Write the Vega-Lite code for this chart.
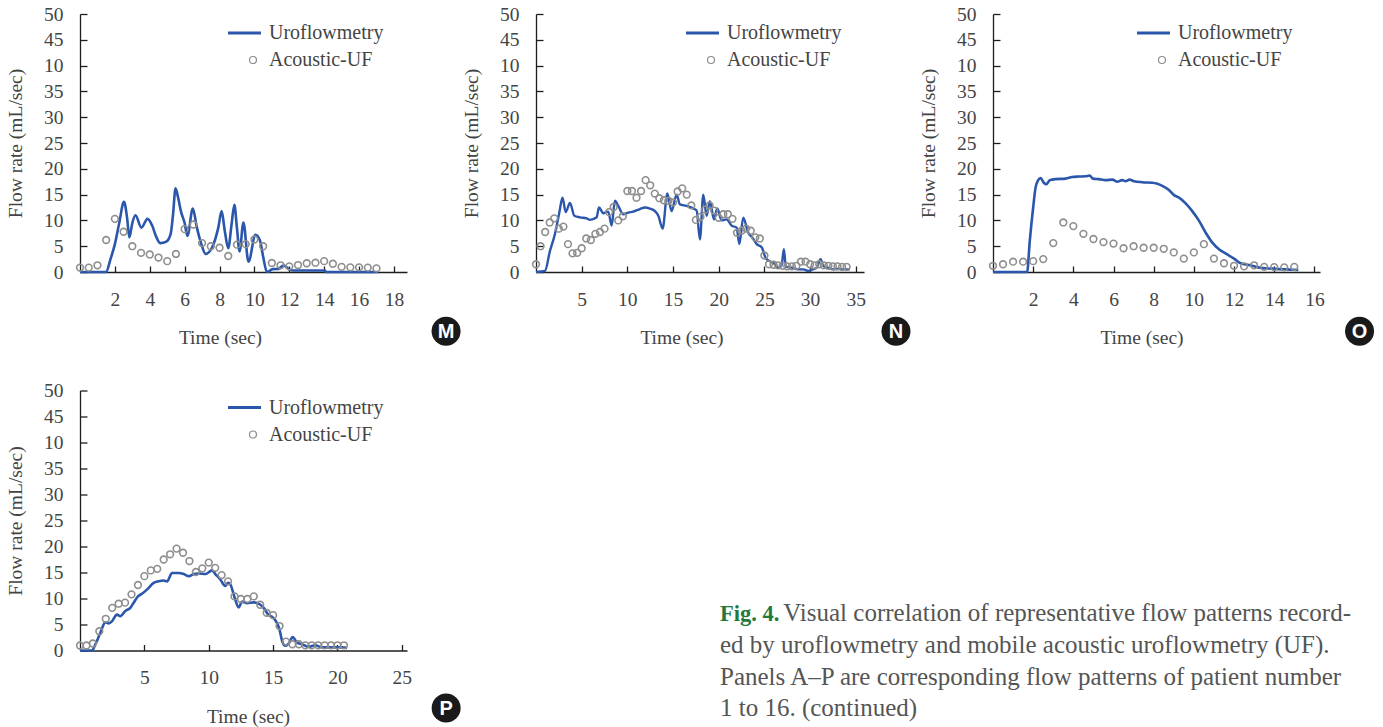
{
 "$schema": "https://vega.github.io/schema/vega-lite/v6.json",
 "padding": {"left": 5, "top": 4, "right": 5, "bottom": 5},
 "background": "white",
 "datasets": {
  "M_uro": [{"time":0,"flow":0},{"time":1.49,"flow":0},{"time":1.75,"flow":2.5},{"time":2.0,"flow":5.4},{"time":2.25,"flow":9.5},{"time":2.52,"flow":13.6},{"time":2.7,"flow":10.5},{"time":2.83,"flow":6.7},{"time":3.0,"flow":9.5},{"time":3.18,"flow":11.0},{"time":3.52,"flow":8.6},{"time":3.87,"flow":10.3},{"time":4.15,"flow":8.9},{"time":4.35,"flow":7.0},{"time":4.6,"flow":5.6},{"time":4.95,"flow":5.9},{"time":5.2,"flow":7.4},{"time":5.33,"flow":11.0},{"time":5.48,"flow":16.2},{"time":5.62,"flow":14.5},{"time":5.8,"flow":11.6},{"time":6.0,"flow":9.5},{"time":6.16,"flow":7.0},{"time":6.47,"flow":12.3},{"time":6.69,"flow":8.8},{"time":6.95,"flow":5.5},{"time":7.2,"flow":3.5},{"time":7.58,"flow":4.8},{"time":7.93,"flow":8.6},{"time":8.12,"flow":11.8},{"time":8.3,"flow":8.0},{"time":8.5,"flow":4.6},{"time":8.7,"flow":9.5},{"time":8.85,"flow":13.0},{"time":9.0,"flow":8.5},{"time":9.15,"flow":4.0},{"time":9.37,"flow":9.6},{"time":9.66,"flow":2.0},{"time":10.06,"flow":7.2},{"time":10.32,"flow":6.1},{"time":10.5,"flow":3.0},{"time":10.72,"flow":0},{"time":11.05,"flow":0.55},{"time":11.37,"flow":0.6},{"time":11.66,"flow":1.25},{"time":12.04,"flow":0.45},{"time":12.2,"flow":0.3},{"time":14.05,"flow":0.3},{"time":14.1,"flow":0},{"time":17.1,"flow":0}],
  "M_ac": [{"time":0,"flow":0.85},{"time":0.5,"flow":0.85},{"time":1.0,"flow":1.3},{"time":1.5,"flow":6.2},{"time":2.0,"flow":10.3},{"time":2.5,"flow":7.8},{"time":3.0,"flow":5.0},{"time":3.5,"flow":3.7},{"time":4.0,"flow":3.4},{"time":4.5,"flow":2.8},{"time":5.0,"flow":2.1},{"time":5.5,"flow":3.5},{"time":6.0,"flow":8.3},{"time":6.5,"flow":9.2},{"time":7.0,"flow":5.6},{"time":7.5,"flow":5.0},{"time":8.0,"flow":4.7},{"time":8.5,"flow":3.1},{"time":9.0,"flow":5.3},{"time":9.5,"flow":5.4},{"time":10.0,"flow":6.3},{"time":10.5,"flow":5.0},{"time":11.0,"flow":1.75},{"time":11.5,"flow":1.3},{"time":12.0,"flow":1.1},{"time":12.5,"flow":1.35},{"time":13.0,"flow":1.7},{"time":13.5,"flow":1.8},{"time":14.0,"flow":2.1},{"time":14.5,"flow":1.6},{"time":15.0,"flow":1.0},{"time":15.5,"flow":0.9},{"time":16.0,"flow":0.9},{"time":16.5,"flow":0.85},{"time":17.0,"flow":0.7}],
  "N_uro": [{"time":0,"flow":0},{"time":0.98,"flow":0.2},{"time":1.53,"flow":4.1},{"time":2.08,"flow":7.4},{"time":2.55,"flow":11.5},{"time":2.9,"flow":14.4},{"time":3.25,"flow":11.6},{"time":3.72,"flow":13.4},{"time":4.19,"flow":10.9},{"time":4.81,"flow":10.6},{"time":5.54,"flow":10.4},{"time":5.9,"flow":10.1},{"time":6.64,"flow":10.6},{"time":6.89,"flow":12.5},{"time":7.37,"flow":11.4},{"time":7.91,"flow":11.7},{"time":8.28,"flow":9.0},{"time":8.64,"flow":13.8},{"time":9.01,"flow":12.8},{"time":9.55,"flow":11.2},{"time":10.1,"flow":11.5},{"time":10.65,"flow":11.7},{"time":11.38,"flow":12.2},{"time":11.93,"flow":12.5},{"time":12.47,"flow":12.3},{"time":13.02,"flow":11.8},{"time":13.39,"flow":10.9},{"time":13.86,"flow":8.4},{"time":14.37,"flow":15.2},{"time":14.84,"flow":11.8},{"time":15.39,"flow":15.0},{"time":15.75,"flow":13.1},{"time":16.48,"flow":12.8},{"time":17.21,"flow":12.3},{"time":17.58,"flow":11.9},{"time":17.94,"flow":6.3},{"time":18.31,"flow":15.0},{"time":18.67,"flow":10.9},{"time":19.04,"flow":13.7},{"time":19.48,"flow":10.2},{"time":19.84,"flow":12.3},{"time":20.32,"flow":10.0},{"time":20.86,"flow":10.2},{"time":21.41,"flow":9.0},{"time":21.96,"flow":8.6},{"time":22.26,"flow":5.4},{"time":22.68,"flow":10.5},{"time":23.23,"flow":7.6},{"time":23.71,"flow":6.6},{"time":24.16,"flow":5.4},{"time":24.7,"flow":4.8},{"time":25.17,"flow":2.6},{"time":25.6,"flow":2.1},{"time":26.16,"flow":1.5},{"time":26.5,"flow":0.8},{"time":26.87,"flow":1.2},{"time":27.13,"flow":4.4},{"time":27.35,"flow":1.0},{"time":28.15,"flow":0.8},{"time":28.7,"flow":0.5},{"time":29.25,"flow":0.5},{"time":29.8,"flow":0.2},{"time":30.27,"flow":0.5},{"time":30.71,"flow":0.8},{"time":31.15,"flow":2.5},{"time":31.44,"flow":1.2},{"time":31.98,"flow":0.8},{"time":32.53,"flow":0.5},{"time":33.08,"flow":0.6},{"time":33.63,"flow":0.5},{"time":34.35,"flow":0.5}],
  "N_ac": [{"time":0,"flow":1.5},{"time":0.5,"flow":5.0},{"time":1.0,"flow":7.75},{"time":1.5,"flow":9.6},{"time":2.0,"flow":10.4},{"time":2.5,"flow":8.4},{"time":3.0,"flow":8.8},{"time":3.5,"flow":5.4},{"time":4.0,"flow":3.6},{"time":4.5,"flow":3.7},{"time":5.0,"flow":4.6},{"time":5.5,"flow":6.5},{"time":6.0,"flow":6.2},{"time":6.5,"flow":7.4},{"time":7.0,"flow":7.75},{"time":7.5,"flow":8.4},{"time":8.0,"flow":11.6},{"time":8.5,"flow":12.6},{"time":9.0,"flow":10.0},{"time":9.5,"flow":10.8},{"time":10.0,"flow":15.7},{"time":10.5,"flow":15.7},{"time":11.0,"flow":14.4},{"time":11.5,"flow":15.7},{"time":12.0,"flow":17.8},{"time":12.5,"flow":16.8},{"time":13.0,"flow":15.2},{"time":13.5,"flow":14.3},{"time":14.0,"flow":13.9},{"time":14.5,"flow":13.8},{"time":15.0,"flow":13.5},{"time":15.5,"flow":15.6},{"time":16.0,"flow":16.2},{"time":16.5,"flow":15.0},{"time":17.0,"flow":12.9},{"time":17.5,"flow":10.1},{"time":18.0,"flow":10.7},{"time":18.5,"flow":12.1},{"time":19.0,"flow":12.9},{"time":19.5,"flow":11.9},{"time":20.0,"flow":10.5},{"time":20.5,"flow":11.2},{"time":21.0,"flow":11.2},{"time":21.5,"flow":10.3},{"time":22.0,"flow":7.6},{"time":22.5,"flow":8.0},{"time":23.0,"flow":8.4},{"time":23.5,"flow":8.0},{"time":24.0,"flow":6.7},{"time":24.5,"flow":6.5},{"time":25.0,"flow":3.2},{"time":25.5,"flow":1.5},{"time":26.0,"flow":1.4},{"time":26.5,"flow":1.3},{"time":27.0,"flow":1.2},{"time":27.5,"flow":1.1},{"time":28.0,"flow":1.1},{"time":28.5,"flow":1.2},{"time":29.0,"flow":2.0},{"time":29.5,"flow":2.0},{"time":30.0,"flow":1.5},{"time":30.5,"flow":1.3},{"time":31.0,"flow":1.5},{"time":31.5,"flow":1.3},{"time":32.0,"flow":1.2},{"time":32.5,"flow":1.1},{"time":33.0,"flow":1.1},{"time":33.5,"flow":1.0},{"time":34.0,"flow":1.0}],
  "O_uro": [{"time":0,"flow":0},{"time":1.7,"flow":0},{"time":1.83,"flow":6.0},{"time":2.0,"flow":12.5},{"time":2.12,"flow":16.4},{"time":2.25,"flow":17.8},{"time":2.37,"flow":18.2},{"time":2.53,"flow":17.3},{"time":2.66,"flow":17.0},{"time":2.83,"flow":17.8},{"time":3.11,"flow":18.0},{"time":3.61,"flow":18.1},{"time":3.94,"flow":18.4},{"time":4.27,"flow":18.5},{"time":4.61,"flow":18.55},{"time":4.81,"flow":18.7},{"time":4.97,"flow":18.1},{"time":5.27,"flow":18.0},{"time":5.6,"flow":17.8},{"time":5.94,"flow":17.9},{"time":6.19,"flow":17.5},{"time":6.43,"flow":17.8},{"time":6.6,"flow":17.6},{"time":6.8,"flow":17.9},{"time":7.02,"flow":17.6},{"time":7.43,"flow":17.4},{"time":7.93,"flow":17.3},{"time":8.18,"flow":17.1},{"time":8.43,"flow":16.7},{"time":8.76,"flow":15.9},{"time":9.01,"flow":14.9},{"time":9.26,"flow":14.4},{"time":9.59,"flow":13.3},{"time":9.92,"flow":11.8},{"time":10.26,"flow":9.9},{"time":10.59,"flow":7.6},{"time":10.92,"flow":5.7},{"time":11.25,"flow":4.4},{"time":11.58,"flow":3.6},{"time":12.0,"flow":2.6},{"time":12.33,"flow":1.7},{"time":12.75,"flow":1.35},{"time":13.25,"flow":0.85},{"time":13.91,"flow":0.65},{"time":14.57,"flow":0.5},{"time":15.2,"flow":0.4}],
  "O_ac": [{"time":0,"flow":1.2},{"time":0.5,"flow":1.5},{"time":1.0,"flow":2.0},{"time":1.5,"flow":2.0},{"time":2.0,"flow":2.1},{"time":2.5,"flow":2.5},{"time":3.0,"flow":5.6},{"time":3.5,"flow":9.6},{"time":4.0,"flow":8.9},{"time":4.5,"flow":7.4},{"time":5.0,"flow":6.4},{"time":5.5,"flow":5.8},{"time":6.0,"flow":5.5},{"time":6.5,"flow":4.6},{"time":7.0,"flow":5.0},{"time":7.5,"flow":4.7},{"time":8.0,"flow":4.7},{"time":8.5,"flow":4.5},{"time":9.0,"flow":3.8},{"time":9.5,"flow":2.6},{"time":10.0,"flow":3.8},{"time":10.5,"flow":5.4},{"time":11.0,"flow":2.6},{"time":11.5,"flow":1.7},{"time":12.0,"flow":1.2},{"time":12.5,"flow":1.1},{"time":13.0,"flow":1.3},{"time":13.5,"flow":1.0},{"time":14.0,"flow":0.95},{"time":14.5,"flow":0.9},{"time":15.0,"flow":1.0}],
  "P_uro": [{"time":0,"flow":0},{"time":0.93,"flow":0},{"time":1.19,"flow":1.15},{"time":1.58,"flow":3.4},{"time":1.97,"flow":5.4},{"time":2.23,"flow":5.2},{"time":2.48,"flow":5.6},{"time":2.87,"flow":6.9},{"time":3.13,"flow":6.6},{"time":3.52,"flow":7.6},{"time":3.91,"flow":8.2},{"time":4.17,"flow":9.2},{"time":4.5,"flow":10.4},{"time":4.81,"flow":10.9},{"time":5.2,"flow":11.7},{"time":5.72,"flow":13.0},{"time":6.11,"flow":13.3},{"time":6.5,"flow":13.45},{"time":6.76,"flow":13.3},{"time":7.15,"flow":14.9},{"time":7.67,"flow":14.9},{"time":8.06,"flow":14.7},{"time":8.45,"flow":14.3},{"time":8.84,"flow":14.7},{"time":9.23,"flow":14.8},{"time":9.74,"flow":14.7},{"time":10.26,"flow":15.4},{"time":10.51,"flow":14.7},{"time":10.9,"flow":13.65},{"time":11.29,"flow":12.4},{"time":11.5,"flow":13.0},{"time":11.68,"flow":12.7},{"time":12.02,"flow":10.1},{"time":12.33,"flow":8.3},{"time":12.59,"flow":9.4},{"time":12.98,"flow":9.1},{"time":13.5,"flow":9.25},{"time":14.01,"flow":8.8},{"time":14.27,"flow":8.2},{"time":14.66,"flow":6.8},{"time":14.92,"flow":6.5},{"time":15.3,"flow":5.3},{"time":15.49,"flow":4.1},{"time":15.7,"flow":1.8},{"time":15.95,"flow":0.9},{"time":16.21,"flow":1.3},{"time":16.52,"flow":2.6},{"time":16.86,"flow":1.5},{"time":17.25,"flow":1.2},{"time":17.77,"flow":0.7},{"time":18.28,"flow":1.0},{"time":18.8,"flow":0.6},{"time":19.58,"flow":0.6},{"time":20.36,"flow":0.6},{"time":20.75,"flow":0.5}],
  "P_ac": [{"time":0,"flow":0.96},{"time":0.5,"flow":0.96},{"time":1.0,"flow":1.35},{"time":1.5,"flow":3.7},{"time":2.0,"flow":6.1},{"time":2.5,"flow":8.2},{"time":3.0,"flow":9.0},{"time":3.5,"flow":9.2},{"time":4.0,"flow":10.8},{"time":4.5,"flow":12.6},{"time":5.0,"flow":14.3},{"time":5.5,"flow":15.4},{"time":6.0,"flow":15.7},{"time":6.5,"flow":17.5},{"time":7.0,"flow":18.5},{"time":7.5,"flow":19.6},{"time":8.0,"flow":18.8},{"time":8.5,"flow":17.2},{"time":9.0,"flow":15.1},{"time":9.5,"flow":15.8},{"time":10.0,"flow":16.9},{"time":10.5,"flow":15.9},{"time":11.0,"flow":14.5},{"time":11.5,"flow":13.3},{"time":12.0,"flow":10.4},{"time":12.5,"flow":9.9},{"time":13.0,"flow":9.9},{"time":13.5,"flow":10.4},{"time":14.0,"flow":8.8},{"time":14.5,"flow":7.25},{"time":15.0,"flow":6.8},{"time":15.5,"flow":4.7},{"time":16.0,"flow":1.7},{"time":16.5,"flow":1.2},{"time":17.0,"flow":1.2},{"time":17.5,"flow":1.0},{"time":18.0,"flow":1.0},{"time":18.5,"flow":1.0},{"time":19.0,"flow":1.0},{"time":19.5,"flow":1.0},{"time":20.0,"flow":1.0},{"time":20.5,"flow":1.0}]
 },
 "concat": [
  {
   "width": 327, "height": 258,
   "layer": [
    {"data": {"name": "M_uro"}, "mark": {"type": "line", "interpolate": "monotone", "strokeWidth": 2.6},
     "encoding": {
      "x": {"field": "time", "type": "quantitative", "scale": {"domain": [0, 18.75], "nice": false, "zero": false}, "axis": {"values": [2,4,6,8,10,12,14,16,18], "tickCount": 30, "format": "d", "title": "Time (sec)", "titleX": 140, "labelOverlap": false}},
      "y": {"field": "flow", "type": "quantitative", "scale": {"domain": [0, 50], "nice": false}, "axis": {"values": [0,5,10,15,20,25,30,35,40,45,50], "tickCount": 30, "format": "d", "labelExpr": "datum.value === 40 ? '10' : datum.label", "title": "Flow rate (mL/sec)", "labelOverlap": false}},
      "color": {"datum": "Uroflowmetry", "type": "nominal", "scale": {"domain": ["Uroflowmetry", "Acoustic-UF"], "range": ["#2a56ab", "#8e8e8e"]},
       "legend": {"orient": "none", "legendX": 168, "legendY": 9, "title": null, "encode": {"symbols": {"update": {"shape": {"signal": "datum.value === 'Uroflowmetry' ? 'stroke' : 'circle'"}, "size": {"signal": "datum.value === 'Uroflowmetry' ? 1089 : 49"}, "stroke": {"signal": "datum.value === 'Uroflowmetry' ? '#2a56ab' : '#333333'"}, "strokeWidth": {"signal": "datum.value === 'Uroflowmetry' ? 3 : 1.2"}, "fill": {"value": "transparent"}, "x": {"signal": "datum.value === 'Uroflowmetry' ? -3.5 : 5"}}}}}}
     }},
    {"data": {"name": "M_ac"}, "mark": {"type": "point", "shape": "circle", "filled": false, "size": 45, "strokeWidth": 1.6, "opacity": 1},
     "encoding": {"x": {"field": "time", "type": "quantitative"}, "y": {"field": "flow", "type": "quantitative"}, "color": {"datum": "Acoustic-UF", "type": "nominal"}}},
    {"data": {"values": [{"badge": "M"}]}, "mark": {"type": "point", "shape": "circle", "filled": true, "size": 841, "color": "#1a1a1a", "opacity": 1},
     "encoding": {"x": {"datum": 20.99, "type": "quantitative"}, "y": {"datum": -11.5, "type": "quantitative"}}},
    {"data": {"values": [{"badge": "M"}]}, "mark": {"type": "text", "color": "#ffffff", "font": "Liberation Sans", "fontWeight": "bold", "fontSize": 20, "baseline": "middle", "align": "center", "dy": 1},
     "encoding": {"x": {"datum": 20.99, "type": "quantitative"}, "y": {"datum": -11.5, "type": "quantitative"}, "text": {"field": "badge"}}}
   ]
  },
  {
   "width": 328, "height": 258,
   "layer": [
    {"data": {"name": "N_uro"}, "mark": {"type": "line", "interpolate": "monotone", "strokeWidth": 2.4},
     "encoding": {
      "x": {"field": "time", "type": "quantitative", "scale": {"domain": [0, 35.9], "nice": false, "zero": false}, "axis": {"values": [5,10,15,20,25,30,35], "tickCount": 30, "format": "d", "title": "Time (sec)", "titleX": 145.5, "labelOverlap": false}},
      "y": {"field": "flow", "type": "quantitative", "scale": {"domain": [0, 50], "nice": false}, "axis": {"values": [0,5,10,15,20,25,30,35,40,45,50], "tickCount": 30, "format": "d", "labelExpr": "datum.value === 40 ? '10' : datum.label", "title": "Flow rate (mL/sec)", "labelOverlap": false}},
      "color": {"datum": "Uroflowmetry", "type": "nominal", "scale": {"domain": ["Uroflowmetry", "Acoustic-UF"], "range": ["#2a56ab", "#8e8e8e"]},
       "legend": {"orient": "none", "legendX": 170, "legendY": 9, "title": null, "encode": {"symbols": {"update": {"shape": {"signal": "datum.value === 'Uroflowmetry' ? 'stroke' : 'circle'"}, "size": {"signal": "datum.value === 'Uroflowmetry' ? 1089 : 49"}, "stroke": {"signal": "datum.value === 'Uroflowmetry' ? '#2a56ab' : '#333333'"}, "strokeWidth": {"signal": "datum.value === 'Uroflowmetry' ? 3 : 1.2"}, "fill": {"value": "transparent"}, "x": {"signal": "datum.value === 'Uroflowmetry' ? -3.5 : 5"}}}}}}
     }},
    {"data": {"name": "N_ac"}, "mark": {"type": "point", "shape": "circle", "filled": false, "size": 45, "strokeWidth": 1.6, "opacity": 1},
     "encoding": {"x": {"field": "time", "type": "quantitative"}, "y": {"field": "flow", "type": "quantitative"}, "color": {"datum": "Acoustic-UF", "type": "nominal"}}},
    {"data": {"values": [{"badge": "N"}]}, "mark": {"type": "point", "shape": "circle", "filled": true, "size": 841, "color": "#1a1a1a", "opacity": 1},
     "encoding": {"x": {"datum": 39.4, "type": "quantitative"}, "y": {"datum": -11.5, "type": "quantitative"}}},
    {"data": {"values": [{"badge": "N"}]}, "mark": {"type": "text", "color": "#ffffff", "font": "Liberation Sans", "fontWeight": "bold", "fontSize": 20, "baseline": "middle", "align": "center", "dy": 1},
     "encoding": {"x": {"datum": 39.4, "type": "quantitative"}, "y": {"datum": -11.5, "type": "quantitative"}, "text": {"field": "badge"}}}
   ]
  },
  {
   "width": 327, "height": 258,
   "layer": [
    {"data": {"name": "O_uro"}, "mark": {"type": "line", "interpolate": "monotone", "strokeWidth": 2.6},
     "encoding": {
      "x": {"field": "time", "type": "quantitative", "scale": {"domain": [0, 16.28], "nice": false, "zero": false}, "axis": {"values": [2,4,6,8,10,12,14,16], "tickCount": 30, "format": "d", "title": "Time (sec)", "titleX": 148.5, "labelOverlap": false}},
      "y": {"field": "flow", "type": "quantitative", "scale": {"domain": [0, 50], "nice": false}, "axis": {"values": [0,5,10,15,20,25,30,35,40,45,50], "tickCount": 30, "format": "d", "labelExpr": "datum.value === 40 ? '10' : datum.label", "title": "Flow rate (mL/sec)", "labelOverlap": false}},
      "color": {"datum": "Uroflowmetry", "type": "nominal", "scale": {"domain": ["Uroflowmetry", "Acoustic-UF"], "range": ["#2a56ab", "#8e8e8e"]},
       "legend": {"orient": "none", "legendX": 164, "legendY": 9, "title": null, "encode": {"symbols": {"update": {"shape": {"signal": "datum.value === 'Uroflowmetry' ? 'stroke' : 'circle'"}, "size": {"signal": "datum.value === 'Uroflowmetry' ? 1089 : 49"}, "stroke": {"signal": "datum.value === 'Uroflowmetry' ? '#2a56ab' : '#333333'"}, "strokeWidth": {"signal": "datum.value === 'Uroflowmetry' ? 3 : 1.2"}, "fill": {"value": "transparent"}, "x": {"signal": "datum.value === 'Uroflowmetry' ? -3.5 : 5"}}}}}}
     }},
    {"data": {"name": "O_ac"}, "mark": {"type": "point", "shape": "circle", "filled": false, "size": 45, "strokeWidth": 1.6, "opacity": 1},
     "encoding": {"x": {"field": "time", "type": "quantitative"}, "y": {"field": "flow", "type": "quantitative"}, "color": {"datum": "Acoustic-UF", "type": "nominal"}}},
    {"data": {"values": [{"badge": "O"}]}, "mark": {"type": "point", "shape": "circle", "filled": true, "size": 841, "color": "#1a1a1a", "opacity": 1},
     "encoding": {"x": {"datum": 18.25, "type": "quantitative"}, "y": {"datum": -11.5, "type": "quantitative"}}},
    {"data": {"values": [{"badge": "O"}]}, "mark": {"type": "text", "color": "#ffffff", "font": "Liberation Sans", "fontWeight": "bold", "fontSize": 20, "baseline": "middle", "align": "center", "dy": 1},
     "encoding": {"x": {"datum": 18.25, "type": "quantitative"}, "y": {"datum": -11.5, "type": "quantitative"}, "text": {"field": "badge"}}}
   ]
  },
  {
   "width": 327, "height": 260,
   "layer": [
    {"data": {"name": "P_uro"}, "mark": {"type": "line", "interpolate": "monotone", "strokeWidth": 2.6},
     "encoding": {
      "x": {"field": "time", "type": "quantitative", "scale": {"domain": [0, 25.4], "nice": false, "zero": false}, "axis": {"values": [5,10,15,20,25], "tickCount": 30, "format": "d", "title": "Time (sec)", "titleX": 168, "labelOverlap": false}},
      "y": {"field": "flow", "type": "quantitative", "scale": {"domain": [0, 50], "nice": false}, "axis": {"values": [0,5,10,15,20,25,30,35,40,45,50], "tickCount": 30, "format": "d", "labelExpr": "datum.value === 40 ? '10' : datum.label", "title": "Flow rate (mL/sec)", "labelOverlap": false}},
      "color": {"datum": "Uroflowmetry", "type": "nominal", "scale": {"domain": ["Uroflowmetry", "Acoustic-UF"], "range": ["#2a56ab", "#8e8e8e"]},
       "legend": {"orient": "none", "legendX": 168, "legendY": 7, "title": null, "encode": {"symbols": {"update": {"shape": {"signal": "datum.value === 'Uroflowmetry' ? 'stroke' : 'circle'"}, "size": {"signal": "datum.value === 'Uroflowmetry' ? 1089 : 49"}, "stroke": {"signal": "datum.value === 'Uroflowmetry' ? '#2a56ab' : '#333333'"}, "strokeWidth": {"signal": "datum.value === 'Uroflowmetry' ? 3 : 1.2"}, "fill": {"value": "transparent"}, "x": {"signal": "datum.value === 'Uroflowmetry' ? -3.5 : 5"}}}}}}
     }},
    {"data": {"name": "P_ac"}, "mark": {"type": "point", "shape": "circle", "filled": false, "size": 45, "strokeWidth": 1.6, "opacity": 1},
     "encoding": {"x": {"field": "time", "type": "quantitative"}, "y": {"field": "flow", "type": "quantitative"}, "color": {"datum": "Acoustic-UF", "type": "nominal"}}},
    {"data": {"values": [{"badge": "P"}]}, "mark": {"type": "point", "shape": "circle", "filled": true, "size": 841, "color": "#1a1a1a", "opacity": 1},
     "encoding": {"x": {"datum": 28.44, "type": "quantitative"}, "y": {"datum": -11.06, "type": "quantitative"}}},
    {"data": {"values": [{"badge": "P"}]}, "mark": {"type": "text", "color": "#ffffff", "font": "Liberation Sans", "fontWeight": "bold", "fontSize": 20, "baseline": "middle", "align": "center", "dy": 1},
     "encoding": {"x": {"datum": 28.44, "type": "quantitative"}, "y": {"datum": -11.06, "type": "quantitative"}, "text": {"field": "badge"}}}
   ]
  },
  {
   "width": 300, "height": 260,
   "data": {"values": [
    {"line": 1, "side": "left", "part": "fig", "text": "Fig. 4."},
    {"line": 1, "side": "right", "part": "body", "text": "Visual correlation of representative flow patterns record-"},
    {"line": 2, "side": "left", "part": "body", "text": "ed by uroflowmetry and mobile acoustic uroflowmetry (UF)."},
    {"line": 3, "side": "left", "part": "body", "text": "Panels A–P are corresponding flow patterns of patient number"},
    {"line": 4, "side": "left", "part": "body", "text": "1 to 16. (continued)"}
   ]},
   "encoding": {
    "x": {"field": "side", "type": "nominal", "scale": {"type": "point", "domain": ["left", "right"], "range": [184, 815], "padding": 0}, "axis": null},
    "y": {"field": "line", "type": "quantitative", "scale": {"domain": [1, 4], "range": [230.9, 325.9], "zero": false, "nice": false}, "axis": null},
    "text": {"field": "text"}
   },
   "layer": [
    {"transform": [{"filter": "datum.part === 'fig'"}], "mark": {"type": "text", "align": "left", "baseline": "alphabetic", "font": "Liberation Serif", "fontSize": 22.5, "fontWeight": "bold", "color": "#237a3b"}},
    {"transform": [{"filter": "datum.part === 'body' && datum.side === 'left'"}], "mark": {"type": "text", "align": "left", "baseline": "alphabetic", "font": "Liberation Serif", "fontSize": 25, "color": "#555555"}},
    {"transform": [{"filter": "datum.side === 'right'"}], "mark": {"type": "text", "align": "right", "baseline": "alphabetic", "font": "Liberation Serif", "fontSize": 25, "color": "#555555"}}
   ]
  }
 ],
 "columns": 3,
 "spacing": {"row": 118.5, "column": 129},
 "align": "none",
 "bounds": "flush",
 "resolve": {"scale": {"color": "independent"}, "legend": {"color": "independent"}},
 "config": {
  "view": {"stroke": null},
  "font": "Liberation Serif",
  "axis": {"grid": false, "domainColor": "#1e1e1e", "domainWidth": 1.3, "tickColor": "#1e1e1e", "tickWidth": 1.3, "labelFont": "Liberation Serif", "labelFontSize": 19.5, "labelColor": "#444444", "titleFont": "Liberation Serif", "titleFontSize": 19.5, "titleFontWeight": "normal", "titleColor": "#444444", "labelFlush": false, "labelOverlap": false},
  "axisX": {"tickSize": -6, "labelPadding": 24, "titlePadding": 20},
  "axisY": {"tickSize": -7, "labelPadding": 24, "titlePadding": 18},
  "legend": {"labelFont": "Liberation Serif", "labelFontSize": 20, "labelColor": "#444444", "symbolSize": 64, "labelOffset": 1, "rowPadding": 7, "padding": 0}
 }
}
